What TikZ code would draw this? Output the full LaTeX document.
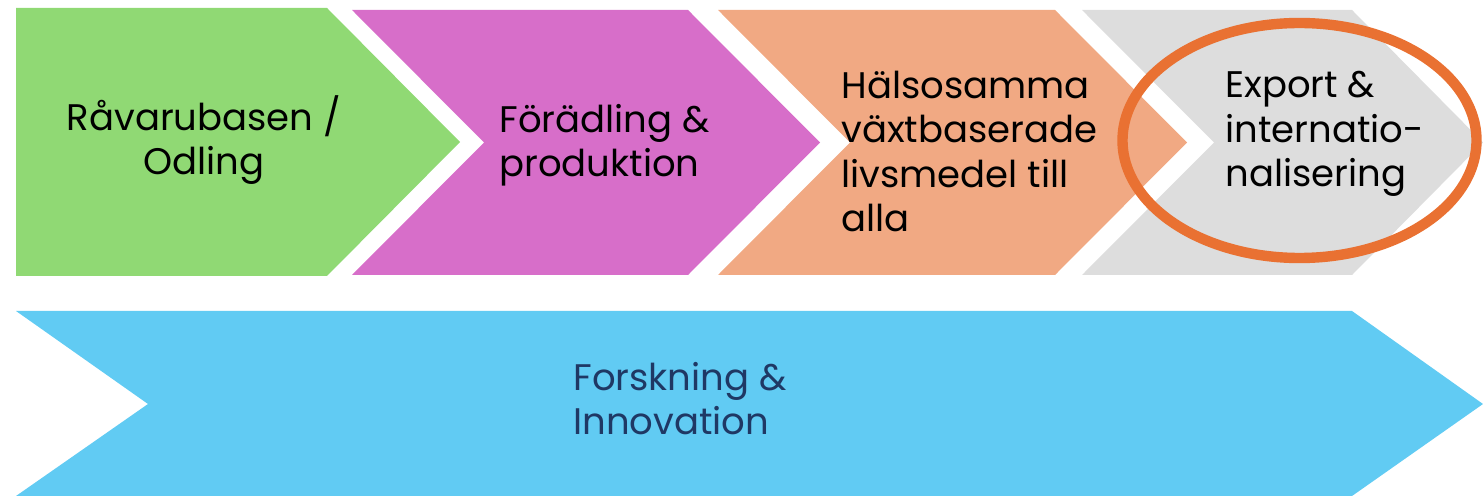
\documentclass[tikz,border=0pt]{standalone}
\usepackage{fontspec}
\setmainfont{Poppins}
\usetikzlibrary{positioning,calc}
\definecolor{odling}{HTML}{90D974}
\definecolor{foradling}{HTML}{D76EC9}
\definecolor{livsmedel}{HTML}{F1A983}
\definecolor{export}{HTML}{DDDDDD}
\definecolor{forskning}{HTML}{61CBF3}
\definecolor{ring}{HTML}{E97132}
\definecolor{navy}{HTML}{1F3864}

\begin{document}
\begin{tikzpicture}[x=0.5pt, y=-0.5pt]
\tikzstyle{every node}=[inner sep=0pt, font=\fontsize{18.5}{22.3}\selectfont, text=black]
\tikzstyle{steptext}=[align=left, anchor=base west]
\useasboundingbox (0,0) rectangle (1483,496);
% chevrons
\fill[odling]    (16,8) -- (327,8) -- (460,142) -- (327,276) -- (16,276) -- cycle;
\fill[foradling] (352,10) -- (688,10) -- (820,142.5) -- (688,275) -- (352,275) -- (484,142.5) -- cycle;
\fill[livsmedel] (718,10) -- (1055,10) -- (1187,142.5) -- (1055,275) -- (718,275) -- (850,142.5) -- cycle;
\fill[export]    (1082,10) -- (1352,10) -- (1483,142.5) -- (1352,275) -- (1082,275) -- (1214,142.5) -- cycle;
\fill[forskning] (16,311) -- (1352,311) -- (1483,404) -- (1352,496) -- (16,496) -- (148,404) -- cycle;
% texts (anchored on the last line)
\node[align=center, anchor=base] (odl) at (204,175) {Råvarubasen /\\Odling};
\node[steptext] (fora) at (499,177) {Förädling \&\\produktion};
\node[steptext] (livs) at (841,232) {Hälsosamma\\växtbaserade\\livsmedel till\\alla};
\node[steptext] (exp)  at (1225,187) {Export \&\\internatio-\\nalisering};
\node[steptext, text=navy] (fors) at (573,435) {Forskning \&\\Innovation};
% ring round export
\draw[ring, line width=5.2pt] (1299.5,140.5) ellipse [x radius=177, y radius=117.5];
\end{tikzpicture}
\end{document}
